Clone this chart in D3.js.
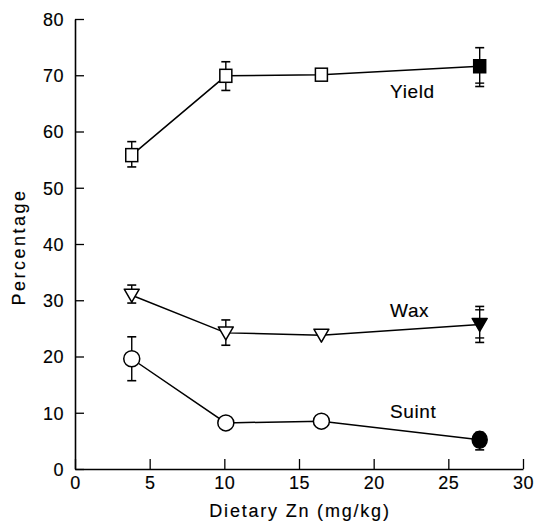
<!DOCTYPE html>
<html>
<head>
<meta charset="utf-8">
<script src="https://cdn.jsdelivr.net/npm/d3@7"></script>
<style>
  body { margin: 0; background: #fff; }
  svg { display: block; }
  text { font-family: "Liberation Sans", Arial, sans-serif; fill: #000; stroke: #000; stroke-width: 0.15px; }
</style>
</head>
<body>
<svg id="chart" width="536" height="523"></svg>
<script>
// dietary Zn (mg/kg)
var zn = [3.8, 10.1, 16.5, 27.1];

var yieldMean = [55.8, 69.9, 70.1, 71.6];
var yieldHi   = [58.2, 72.4, null, 74.9];
var yieldLo   = [53.7, 67.3, null, 68.0];

var waxMean = [30.9, 24.2, 23.8, 25.7];
var waxHi   = [32.7, 26.5, null, 28.9];
var waxLo   = [29.5, 22.0, null, 22.5];

var suintMean = [19.6, 8.2, 8.5, 5.2];
var suintHi   = [23.5, null, null, 6.5];
var suintLo   = [15.7, null, null, 3.4];

// second group at the top dose gives doubled caps
var extraCaps = [
  {x: 27.1, y: 68.6},
  {x: 27.1, y: 28.3},
  {x: 27.1, y: 23.3}
];

var xTicks = [0, 5, 10, 15, 20, 25, 30];
var yTicks = [0, 10, 20, 30, 40, 50, 60, 70, 80];

var margin = {top: 19, right: 13, bottom: 54, left: 75},
    width = 536 - margin.left - margin.right,
    height = 523 - margin.top - margin.bottom;

var svg = d3.select("#chart");
var g = svg.append("g").attr("transform", `translate(${margin.left},${margin.top})`);

var x = d3.scaleLinear().domain([0, 30]).range([0, width]);
var y = d3.scaleLinear().domain([0, 80]).range([height, 0]);

// axes, ticks pointing inwards
var xAxis = g.append("g")
  .attr("transform", `translate(0,${height})`)
  .call(d3.axisBottom(x).tickValues(xTicks).tickSizeInner(-10).tickSizeOuter(0).tickPadding(20));
var yAxis = g.append("g")
  .call(d3.axisLeft(y).tickValues(yTicks).tickSizeInner(-9).tickSizeOuter(0).tickPadding(20));

[xAxis, yAxis].forEach(a => {
  a.select(".domain").attr("stroke", "#000").attr("stroke-width", 1.6);
  a.selectAll(".tick line").attr("stroke", "#000").attr("stroke-width", 1.3);
  a.selectAll(".tick text")
    .style("font-family", "'Liberation Sans', Arial, sans-serif")
    .style("font-size", "18px")
    .style("letter-spacing", "0.5px");
});
yAxis.selectAll(".tick text").attr("x", -11).attr("dy", "0.36em");
xAxis.selectAll(".tick text").attr("y", 7).attr("dy", "0.71em");

// axis titles
svg.append("text")
  .attr("x", 300).attr("y", 517)
  .attr("text-anchor", "middle")
  .style("font-size", "18px")
  .style("letter-spacing", "1.8px")
  .text("Dietary Zn (mg/kg)");

svg.append("text")
  .attr("transform", "translate(25,247) rotate(-90)")
  .attr("text-anchor", "middle")
  .style("font-size", "18px")
  .style("letter-spacing", "2.5px")
  .text("Percentage");

function build(mean, hi, lo) {
  return zn.map((d, i) => ({x: d, y: mean[i], hi: hi[i], lo: lo[i], filled: i === zn.length - 1}));
}

var series = [
  {name: "Yield", shape: "square", data: build(yieldMean, yieldHi, yieldLo), label: {x: 21.1, y: 66.0}},
  {name: "Wax", shape: "triangle", data: build(waxMean, waxHi, waxLo), label: {x: 21.1, y: 27.0}},
  {name: "Suint", shape: "circle", data: build(suintMean, suintHi, suintLo), label: {x: 21.1, y: 9.1}}
];

var line = d3.line().x(d => x(d.x)).y(d => y(d.y));
var capW = 4.5;

series.forEach(s => {
  var sg = g.append("g");

  // error bars
  s.data.forEach(d => {
    if (d.hi == null) return;
    sg.append("line")
      .attr("x1", x(d.x)).attr("x2", x(d.x))
      .attr("y1", y(d.hi)).attr("y2", y(d.lo))
      .attr("stroke", "#000").attr("stroke-width", 1.4);
    [d.hi, d.lo].forEach(v => {
      sg.append("line")
        .attr("x1", x(d.x) - capW).attr("x2", x(d.x) + capW)
        .attr("y1", y(v)).attr("y2", y(v))
        .attr("stroke", "#000").attr("stroke-width", 1.6);
    });
  });

  sg.append("path")
    .datum(s.data)
    .attr("d", line)
    .attr("fill", "none")
    .attr("stroke", "#000")
    .attr("stroke-width", 1.5);

  s.data.forEach(d => {
    var cx = x(d.x), cy = y(d.y);
    var fill = d.filled ? "#000" : "#fff";
    if (s.shape === "square") {
      sg.append("rect")
        .attr("x", cx - 6).attr("y", cy - 6.5)
        .attr("width", 12).attr("height", 13)
        .attr("fill", fill).attr("stroke", "#000").attr("stroke-width", 1.5);
    } else if (s.shape === "triangle") {
      sg.append("path")
        .attr("d", `M${cx - 7.5},${cy - 6}L${cx + 7.5},${cy - 6}L${cx},${cy + 7}Z`)
        .attr("fill", fill).attr("stroke", "#000").attr("stroke-width", 1.5)
        .attr("stroke-linejoin", "round");
    } else {
      sg.append("ellipse")
        .attr("cx", cx).attr("cy", cy)
        .attr("rx", d.filled ? 7.5 : 8).attr("ry", d.filled ? 8.5 : 8)
        .attr("fill", fill).attr("stroke", "#000").attr("stroke-width", 1.5);
    }
  });

  sg.append("text")
    .attr("x", x(s.label.x)).attr("y", y(s.label.y))
    .style("font-size", "19px")
    .style("letter-spacing", "0.6px")
    .text(s.name);
});

g.selectAll(".xcap")
  .data(extraCaps)
  .enter().append("line")
  .attr("x1", d => x(d.x) - capW).attr("x2", d => x(d.x) + capW)
  .attr("y1", d => y(d.y)).attr("y2", d => y(d.y))
  .attr("stroke", "#000").attr("stroke-width", 1.4);
</script>
</body>
</html>
